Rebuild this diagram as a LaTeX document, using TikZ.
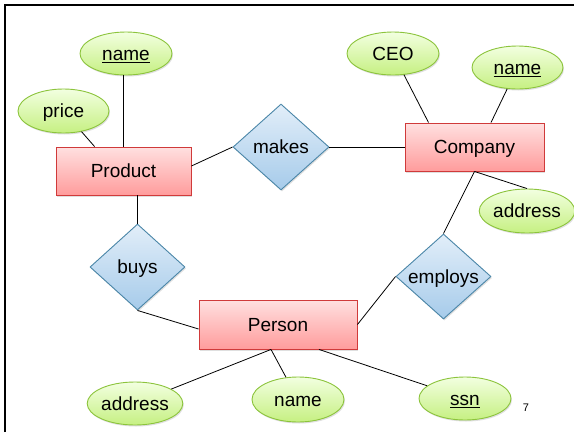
\documentclass[tikz,border=0pt]{standalone}
\usepackage{fontspec}
\setmainfont{Liberation Sans}
\usetikzlibrary{shapes.geometric,shadows,calc}
\definecolor{entTop}{HTML}{FFE0E0}
\definecolor{entBot}{HTML}{FF9C9C}
\definecolor{entLine}{HTML}{D03A3A}
\definecolor{relTop}{HTML}{E2EEF9}
\definecolor{relBot}{HTML}{A6CBEA}
\definecolor{relLine}{HTML}{4A86A8}
\definecolor{attTop}{HTML}{F2FFE0}
\definecolor{attBot}{HTML}{C6F082}
\definecolor{attLine}{HTML}{8CC43C}
\tikzset{
  shd/.style={drop shadow={opacity=0.25,shadow xshift=1pt,shadow yshift=-1.5pt}},
  txt/.style={font=\fontsize{19}{22}\selectfont, text height=17pt, text depth=3.5pt},
  entity/.style={rectangle, shd, draw=entLine, line width=0.9pt, top color=entTop, bottom color=entBot, inner sep=0pt, txt},
  rel/.style={diamond, shd, draw=relLine, line width=0.9pt, top color=relTop, bottom color=relBot, inner sep=0pt, aspect=1.1, txt},
  attr/.style={ellipse, shd, draw=attLine, line width=0.9pt, top color=attTop, bottom color=attBot, inner sep=0pt, txt},
  conn/.style={draw=black, line width=0.8pt},
}
\begin{document}
\begin{tikzpicture}[x=1pt,y=-1pt]
\useasboundingbox (0,0) rectangle (574,432);
\fill[white] (0,0) rectangle (574,432);
\draw[line width=2.5pt] (5,432) -- (5,5) -- (574,5);
% entities
\node[entity, minimum width=135, minimum height=48] (prod) at (123.5,171) {Product};
\node[entity, minimum width=139, minimum height=48] (comp) at (474.5,147) {Company};
\node[entity, minimum width=158, minimum height=49] (person) at (278,324.5) {Person};
% relationships
\node[rel, minimum width=96, minimum height=86] (makes) at (281,147) {makes};
\node[rel, minimum width=95, minimum height=85] (employs) at (443.5,276.5) {employs};
\node[rel, minimum width=95, minimum height=86] (buys) at (137.5,267) {buys};
% attributes
\node[attr, minimum width=92, minimum height=43] (pname) at (126,53.5) {\underline{name}};
\node[attr, minimum width=91, minimum height=44] (price) at (63.5,111) {price};
\node[attr, minimum width=92, minimum height=43] (ceo) at (393,53.5) {CEO};
\node[attr, minimum width=91, minimum height=43] (cname) at (517.5,67.5) {\underline{name}};
\node[attr, minimum width=90, minimum height=44] (caddr) at (527,211) {address};
\node[attr, minimum width=92, minimum height=43] (paddr) at (135,403.5) {address};
\node[attr, minimum width=92, minimum height=45] (pnm) at (298,399.5) {name};
\node[attr, minimum width=92, minimum height=43] (ssn) at (465,398.5) {\underline{ssn}};
\node[font=\fontsize{11}{13}\selectfont] (pageno) at (526,408) {7};
% connectors
\path[conn] (prod.north |- pname.south) -- (prod.north);
\path[conn] (price) -- ($(prod.north west)+(39,0)$);
\path[conn] ($(prod.east)+(0,-5)$) -- (makes.west);
\path[conn] (makes.east) -- (comp.west);
\path[conn] (ceo) -- ($(comp.north west)+(24,0)$);
\path[conn] (cname) -- ($(comp.north)+(16.5,0)$);
\path[conn] (comp.south) -- (caddr.north);
\path[conn] (comp.south) -- (employs.north);
\path[conn] (employs.west) -- (person.east);
\path[conn] (buys.north |- prod.south) -- (buys.north);
\path[conn] (buys.south) -- ($(person.west)+(0,4.5)$);
\path[conn] ($(person.south)+(-7,0)$) -- (paddr);
\path[conn] ($(person.south)+(-7,0)$) -- (pnm);
\path[conn] ($(person.south)+(41,0)$) -- (ssn);
\end{tikzpicture}
\end{document}
